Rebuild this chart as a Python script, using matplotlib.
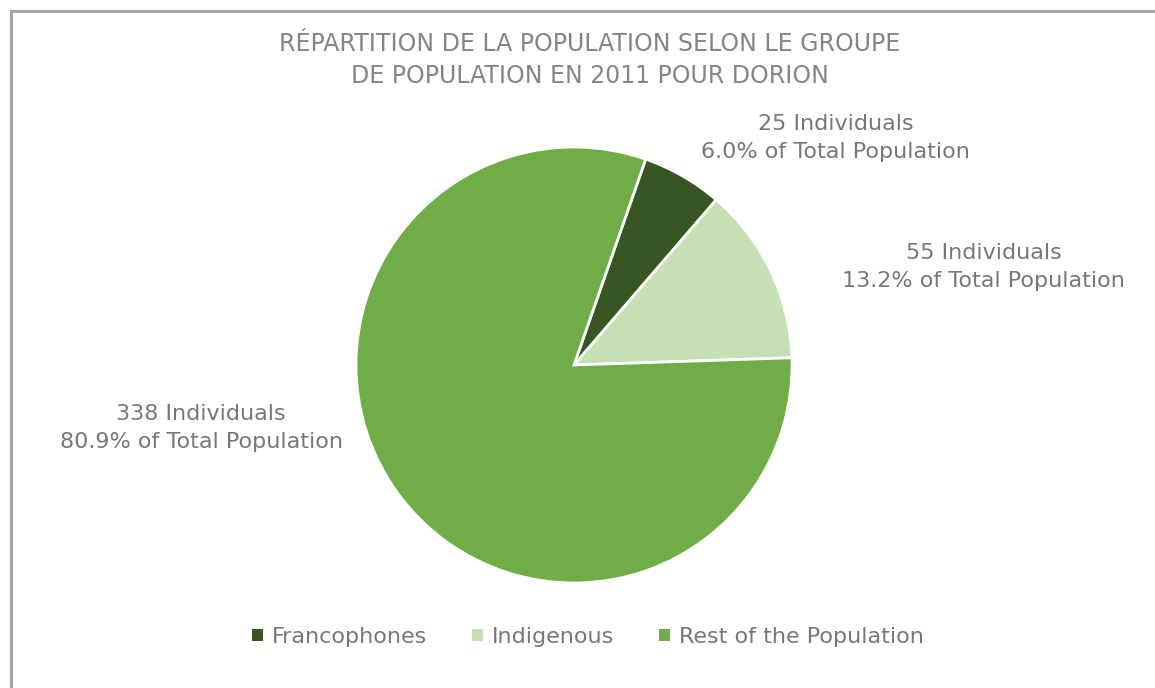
import numpy as np
import matplotlib.pyplot as plt
from matplotlib.patches import Rectangle

plt.rcParams['font.family'] = ['DejaVu Sans']

groups = ['Francophones', 'Indigenous', 'Rest of the Population']
counts = [25, 55, 338]
colors = ['#375623', '#C5E0B4', '#70AD47']
# label centres, in units of the pie radius
label_pos = [(1.20, 1.04), (1.88, 0.45), (-1.71, -0.29)]

txt_color = '#7a7676'
total = sum(counts)

fig = plt.figure(figsize=(11.55, 6.88), dpi=100)
ax = fig.add_axes([0, 0, 1, 1])

r_px = 218
cx, cy = 574, 365

wedges, _ = ax.pie(counts, colors=colors, startangle=70.8, counterclock=False,
                   radius=1, center=(0, 0), frame=True,
                   wedgeprops=dict(edgecolor='white', linewidth=2))
ax.set_xlim(-cx / r_px, (1155 - cx) / r_px)
ax.set_ylim(-(688 - cy) / r_px, cy / r_px)
ax.set_aspect('equal')
ax.axis('off')

for n, (x, y) in zip(counts, label_pos):
    ax.text(x, y, f'{n} Individuals\n{100 * n / total:.1f}% of Total Population',
            ha='center', va='center', fontsize=16, color=txt_color,
            linespacing=1.5)

fig.text(590 / 1155, 1 - 60 / 688,
         'RÉPARTITION DE LA POPULATION SELON LE GROUPE\nDE POPULATION EN 2011 POUR DORION',
         ha='center', va='center', fontsize=17, color='#858585', linespacing=1.42)

leg = fig.legend(wedges, groups, loc='center', bbox_to_anchor=(588 / 1155, 1 - 637 / 688),
                 ncol=3, frameon=False, fontsize=16, handlelength=0.5,
                 handleheight=0.5, handletextpad=0.4, columnspacing=2.0)
for t in leg.get_texts():
    t.set_color(txt_color)
for h in leg.legend_handles:
    h.set_edgecolor('none')

fig.patches.append(Rectangle((11 / 1155, -0.1), 1.2, 1.1 - 11 / 688,
                             transform=fig.transFigure, fill=False,
                             edgecolor='#A6A6A6', linewidth=2.2))

fig.savefig('out.png', dpi=100, facecolor='white')
